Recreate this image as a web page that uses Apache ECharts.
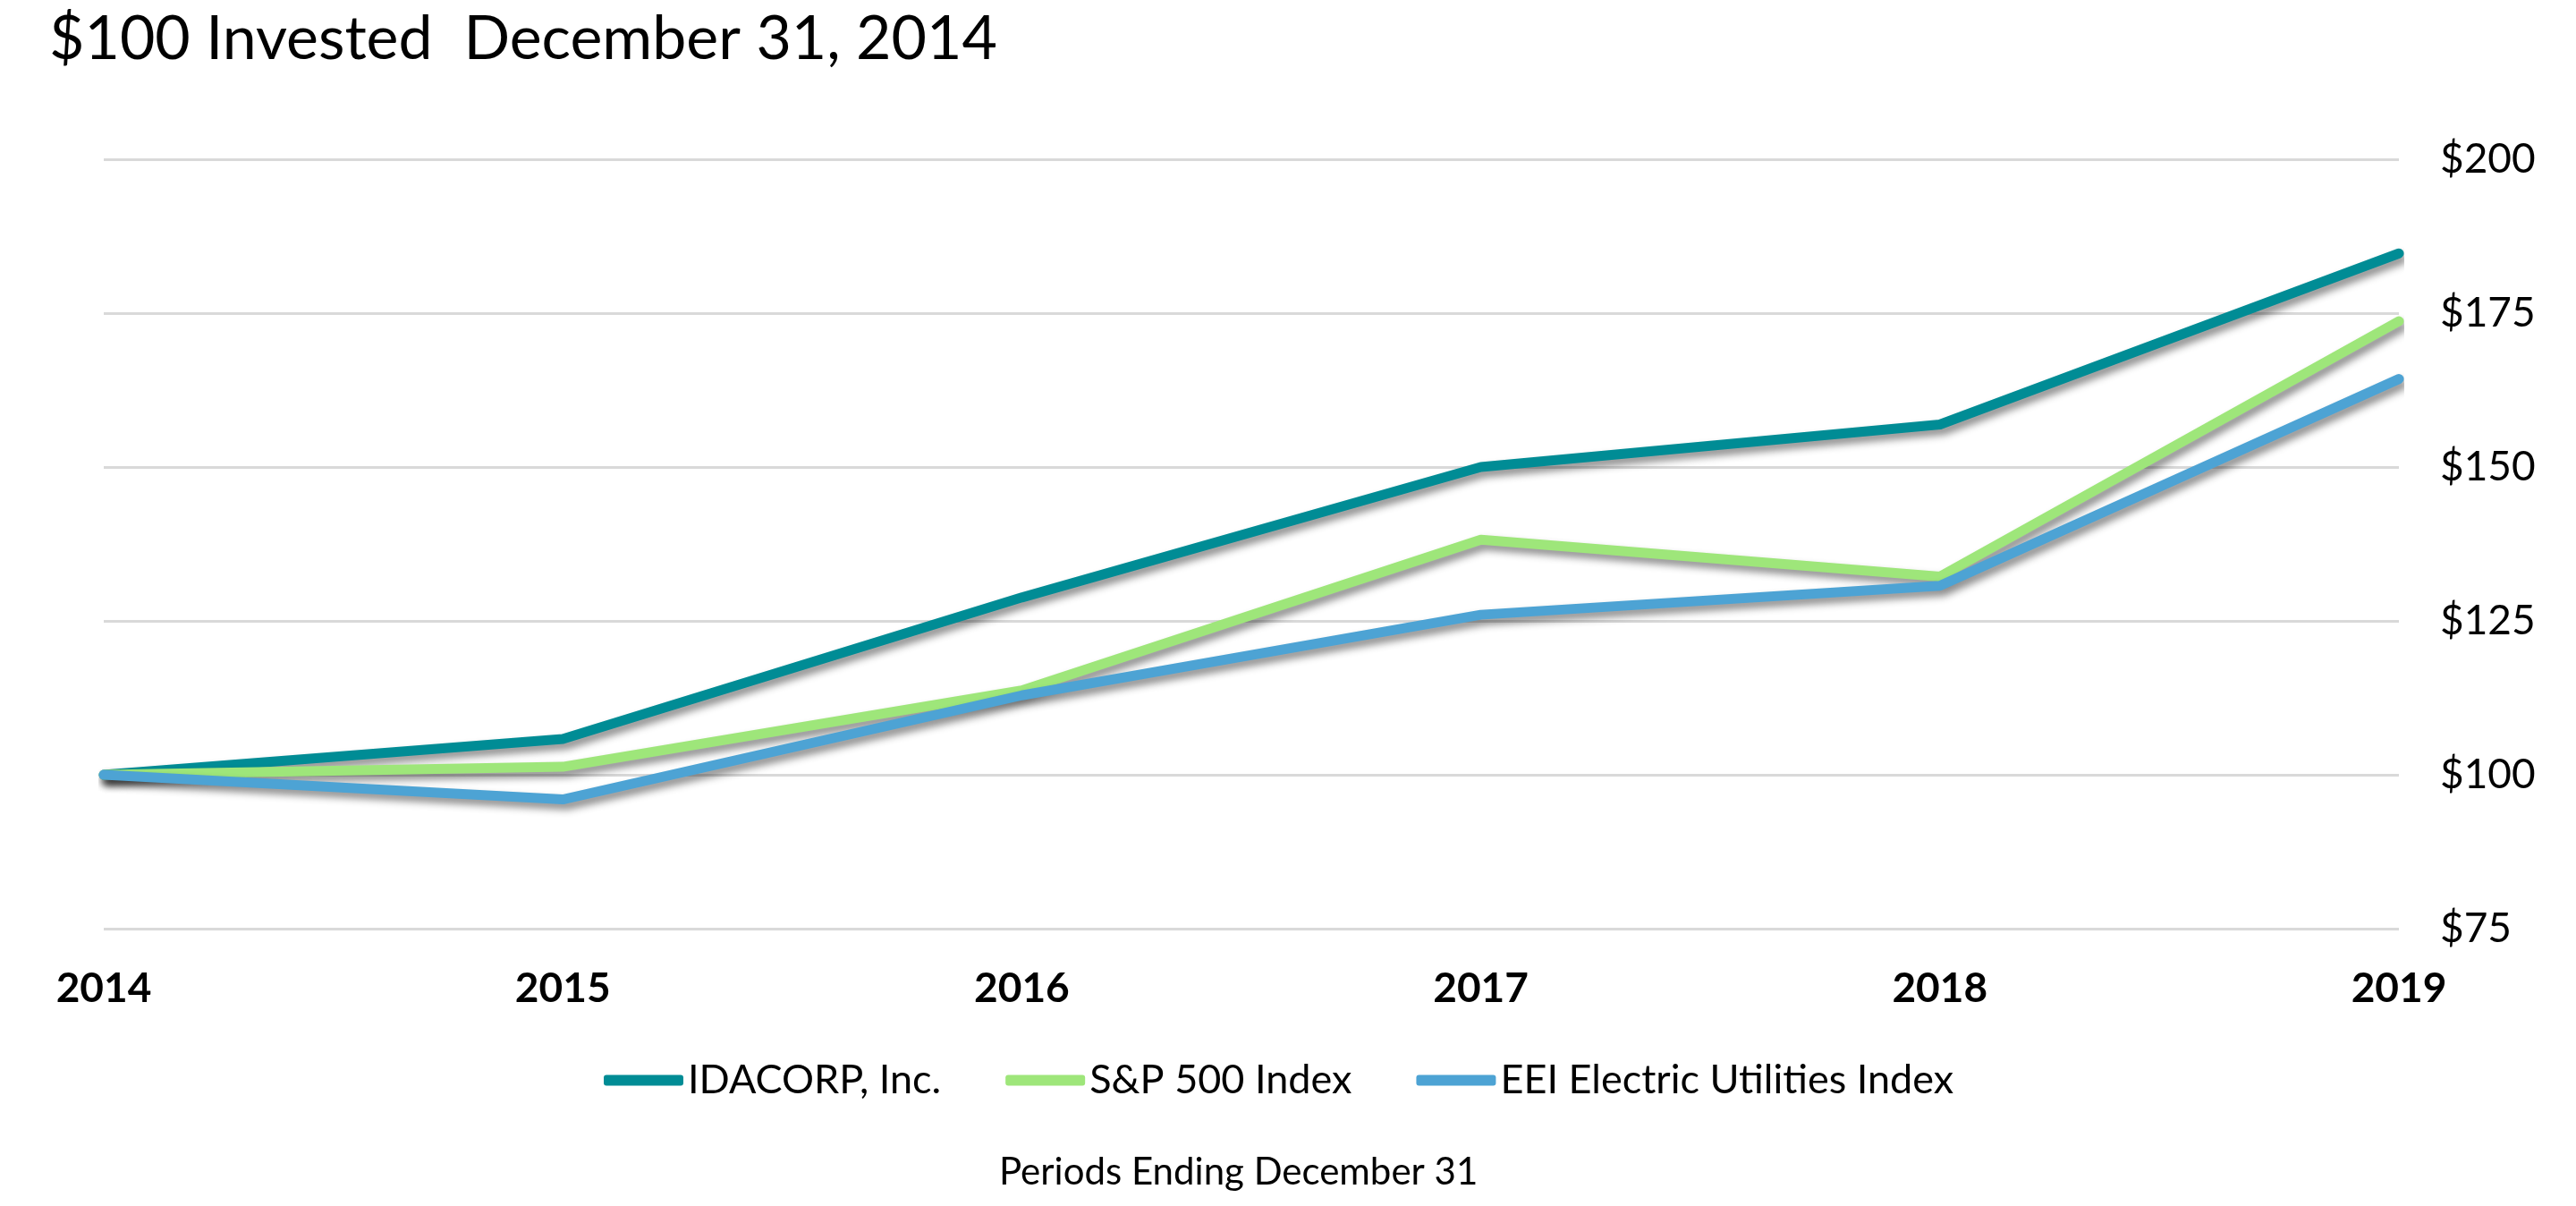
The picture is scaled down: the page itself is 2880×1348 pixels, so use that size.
<!DOCTYPE html>
<html>
<head>
<meta charset="utf-8">
<script src="https://cdn.jsdelivr.net/npm/echarts@6/dist/echarts.min.js"></script>
<style>
html,body{margin:0;padding:0;background:#fff;}
#chart{width:2880px;height:1348px;}
</style>
</head>
<body>
<div id="chart"></div>
<script>
var years = ['2014', '2015', '2016', '2017', '2018', '2019'];
var idacorp = [100, 105.8, 128.8, 150.0, 156.9, 184.7];
var sp500 = [100, 101.3, 113.7, 138.2, 132.2, 173.7];
var eei = [100, 96.0, 112.9, 126.0, 130.7, 164.3];
var seriesNames = ['IDACORP, Inc.', 'S&P 500 Index', 'EEI Electric Utilities Index'];
var colors = ['#008C95', '#9EE67A', '#4DA3D4'];
var yTicks = [75, 100, 125, 150, 175, 200];

var FONT = 'Lato, "Open Sans", sans-serif';
var chart = echarts.init(document.getElementById('chart'));
function mk(name, data, color) {
  return {
    name: name, type: 'line', data: data, symbol: 'none', smooth: false,
    lineStyle: { width: 11, color: color, cap: 'round', join: 'round',
      shadowColor: 'rgba(0,0,0,0.45)', shadowBlur: 8, shadowOffsetX: 4, shadowOffsetY: 6 },
    itemStyle: { color: color },
    emphasis: { disabled: true }
  };
}
chart.setOption({
  animation: false,
  backgroundColor: '#ffffff',
  title: {
    text: '$100 Invested  December 31, 2014',
    left: 50, top: 5,
    textStyle: { fontFamily: FONT, fontWeight: 'normal', fontSize: 68, color: '#000' }
  },
  graphic: [{
    type: 'text', left: 1117, top: 1289,
    style: { text: 'Periods Ending December 31', font: '42px ' + FONT, fill: '#000' }
  }],
  legend: {
    data: seriesNames.map(function(n, i){ return { name: n, icon: 'roundRect' }; }),
    left: 670, top: 1180,
    itemWidth: 89, itemHeight: 12, itemGap: 72,
    textStyle: { fontFamily: FONT, fontSize: 45, color: '#000' }
  },
  grid: { left: 116, right: 198, top: 178, bottom: 310, containLabel: false },
  xAxis: {
    type: 'category', data: years, boundaryGap: false,
    axisLine: { show: false }, axisTick: { show: false },
    axisLabel: { fontFamily: FONT, fontWeight: 'bold', fontSize: 46, color: '#000', margin: 44 },
    splitLine: { show: false }
  },
  yAxis: {
    type: 'value', position: 'right', min: yTicks[0], max: yTicks[yTicks.length - 1], interval: 25,
    axisLine: { show: false }, axisTick: { show: false },
    axisLabel: { fontFamily: FONT, fontSize: 46, color: '#000', margin: 46,
      formatter: function(v){ return '$' + v; } },
    splitLine: { lineStyle: { color: '#d9d9d9', width: 3 } }
  },
  series: [mk(seriesNames[0], idacorp, colors[0]), mk(seriesNames[1], sp500, colors[1]), mk(seriesNames[2], eei, colors[2])]
});
</script>
</body>
</html>
